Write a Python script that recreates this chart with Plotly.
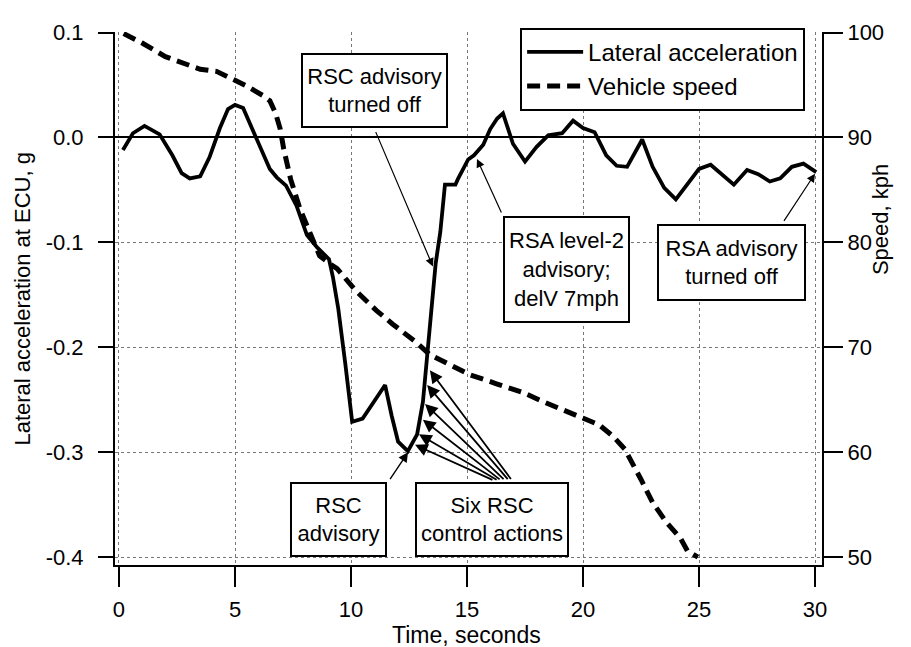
import plotly.graph_objects as go

# ---- data ----
acc_time = [0.17, 0.6, 1.1, 1.75, 2.3, 2.7, 3.05, 3.5, 3.9, 4.35, 4.7, 5.0, 5.35, 5.8, 6.1,
            6.5, 6.8, 7.2, 7.65, 8.1, 8.55, 9.05, 9.22, 9.45, 9.75, 10.05, 10.5, 11.0, 11.47,
            11.75, 12.03, 12.45, 12.85, 13.1, 13.3, 13.5, 13.65, 13.85, 14.05, 14.5, 14.6,
            15.05, 15.3, 15.7, 16.0, 16.3, 16.55, 16.98, 17.5, 18.0, 18.5, 19.1, 19.57, 20.0,
            20.5, 21.0, 21.45, 21.9, 22.55, 23.0, 23.5, 24.0, 24.5, 25.0, 25.5, 26.0, 26.5,
            27.07, 27.55, 28.05, 28.5, 29.0, 29.5, 30.05]
lateral_acc = [-0.012, 0.004, 0.011, 0.003, -0.017, -0.034, -0.039, -0.037, -0.019, 0.009,
               0.027, 0.031, 0.028, 0.006, -0.009, -0.030, -0.038, -0.046, -0.065, -0.093,
               -0.105, -0.116, -0.133, -0.163, -0.215, -0.271, -0.268, -0.252, -0.236, -0.265,
               -0.290, -0.299, -0.283, -0.252, -0.205, -0.157, -0.120, -0.090, -0.045, -0.045,
               -0.040, -0.021, -0.017, -0.007, 0.008, 0.018, 0.023, -0.006, -0.023, -0.009,
               0.002, 0.004, 0.016, 0.009, 0.005, -0.017, -0.027, -0.028, -0.002, -0.028,
               -0.048, -0.059, -0.044, -0.030, -0.026, -0.035, -0.045, -0.031, -0.035, -0.042,
               -0.039, -0.028, -0.025, -0.033]

speed_time = [0.2, 1.0, 2.0, 2.8, 3.5, 4.2, 4.9, 5.5, 6.2, 6.5, 6.75, 6.95, 7.1, 7.4, 7.8,
              8.1, 8.65, 9.2, 9.4, 10.2, 11.1, 11.8, 12.85, 13.4, 14.1, 15.1, 16.3, 17.4,
              18.3, 19.3, 20.2, 20.7, 21.3, 21.8, 22.5, 23.0, 23.6, 24.2, 24.5, 24.95]
vehicle_speed = [99.9, 99.0, 97.7, 97.0, 96.5, 96.3, 95.6, 94.9, 94.0, 93.5, 92.3, 90.8, 88.9,
                 86.0, 83.2, 81.5, 78.7, 77.8, 77.5, 75.4, 73.5, 72.2, 70.4, 69.3, 68.5, 67.4,
                 66.5, 65.7, 64.8, 63.9, 63.1, 62.6, 61.5, 60.3, 57.4, 55.2, 53.3, 51.8, 50.6,
                 50.0]

x_ticks = [0, 5, 10, 15, 20, 25, 30]
y_ticks = [0.1, 0.0, -0.1, -0.2, -0.3, -0.4]
y_tick_labels = ["0.1", "0.0", "-0.1", "-0.2", "-0.3", "-0.4"]
y2_ticks = [100, 90, 80, 70, 60, 50]

# text boxes: (label, time, acc)
box_labels = ["RSC advisory<br>turned off", "RSA level-2<br>advisory;<br>delV 7mph",
              "RSA advisory<br>turned off", "RSC<br>advisory", "Six RSC<br>control actions"]
box_time = [11.01, 19.29, 26.40, 9.46, 16.08]
box_acc = [0.0452, -0.1255, -0.119, -0.364, -0.364]
box_w = [143, 123, 145, 93, 150]
box_h = [71, 103, 73, 71, 71]

# arrows: head (time, acc), tail (time, acc), line width
arrow_head_t = [13.53, 15.43, 30.0, 12.46, 13.40, 13.28, 13.19, 13.10, 12.93, 12.76]
arrow_head_a = [-0.123, -0.0205, -0.0345, -0.300, -0.222, -0.236, -0.254, -0.269, -0.283, -0.293]
arrow_tail_t = [11.04, 16.51, 28.62, 11.64, 16.94, 16.81, 16.64, 16.47, 16.34, 16.16]
arrow_tail_a = [0.0065, -0.073, -0.081, -0.327, -0.327, -0.327, -0.327, -0.327, -0.327, -0.327]
arrow_width = [1.2, 1.2, 1.2, 1.4, 1.8, 1.8, 1.8, 1.8, 1.8, 1.8]

FONT = "Liberation Sans, Arial, sans-serif"

fig = go.Figure()
fig.add_trace(go.Scatter(x=acc_time, y=lateral_acc, mode="lines", name="Lateral acceleration",
                         line=dict(color="black", width=3.8), yaxis="y"))
fig.add_trace(go.Scatter(x=speed_time, y=vehicle_speed, mode="lines", name="Vehicle speed",
                         line=dict(color="black", width=5, dash="13px,7px"), yaxis="y2"))

annotations = []
for lab, t, a, w, h in zip(box_labels, box_time, box_acc, box_w, box_h):
    annotations.append(dict(x=t, y=a, xref="x", yref="y", text=lab, showarrow=False,
                            font=dict(family=FONT, size=22, color="black"),
                            bordercolor="black", borderwidth=2, borderpad=0,
                            bgcolor="white", width=w, height=h, align="center",
                            xanchor="center", yanchor="middle"))
for ht, ha, tt, ta, aw in zip(arrow_head_t, arrow_head_a, arrow_tail_t, arrow_tail_a, arrow_width):
    annotations.append(dict(x=ht, y=ha, xref="x", yref="y", ax=tt, ay=ta, axref="x", ayref="y",
                            text="", showarrow=True, arrowhead=2, arrowsize=1.4,
                            arrowwidth=aw, arrowcolor="black", standoff=0))

# axis titles
annotations.append(dict(x=0.4965, y=-0.132, xref="paper", yref="paper", text="Time, seconds",
                        showarrow=False, font=dict(family=FONT, size=23, color="black"),
                        xanchor="center", yanchor="middle"))
annotations.append(dict(x=-0.1315, y=0.5, xref="paper", yref="paper",
                        text="Lateral acceleration at ECU, g", textangle=-90,
                        showarrow=False, font=dict(family=FONT, size=22, color="black"),
                        xanchor="center", yanchor="middle"))
annotations.append(dict(x=1.082, y=0.649, xref="paper", yref="paper", text="Speed, kph",
                        textangle=-90, showarrow=False,
                        font=dict(family=FONT, size=22, color="black"),
                        xanchor="center", yanchor="middle"))

grid = dict(showgrid=True, gridcolor="#777777", gridwidth=1, griddash="dot")

fig.update_layout(
    width=903, height=639,
    margin=dict(l=107, r=89, t=13, b=82),
    paper_bgcolor="white", plot_bgcolor="white",
    font=dict(family=FONT, size=22, color="black"),
    showlegend=True,
    legend=dict(x=0.573, y=1.008, xanchor="left", yanchor="top",
                bordercolor="black", borderwidth=2, bgcolor="white",
                font=dict(family=FONT, size=24, color="black"),
                tracegroupgap=0, itemwidth=56),
    xaxis=dict(range=[-0.172, 30.3], tickvals=x_ticks, ticks="outside", ticklen=20,
               tickwidth=2, tickcolor="black", showline=True, linecolor="black",
               linewidth=2, zeroline=False, tickfont=dict(size=22),
               ticklabelstandoff=4, **grid),
    yaxis=dict(range=[-0.4075, 0.1005], tickvals=y_ticks, ticktext=y_tick_labels,
               ticks="outside", ticklen=15, tickwidth=2, tickcolor="black",
               showline=True, linecolor="black", linewidth=2,
               zeroline=True, zerolinecolor="black", zerolinewidth=2,
               tickfont=dict(size=22), ticklabelstandoff=10, **grid),
    yaxis2=dict(range=[49.25, 100.05], tickvals=y2_ticks, overlaying="y", side="right",
                ticks="outside", ticklen=19, tickwidth=2, tickcolor="black",
                showline=True, linecolor="black", linewidth=2, showgrid=False,
                zeroline=False, tickfont=dict(size=22), ticklabelstandoff=0),
    annotations=annotations,
)

fig.write_html("out.html")
